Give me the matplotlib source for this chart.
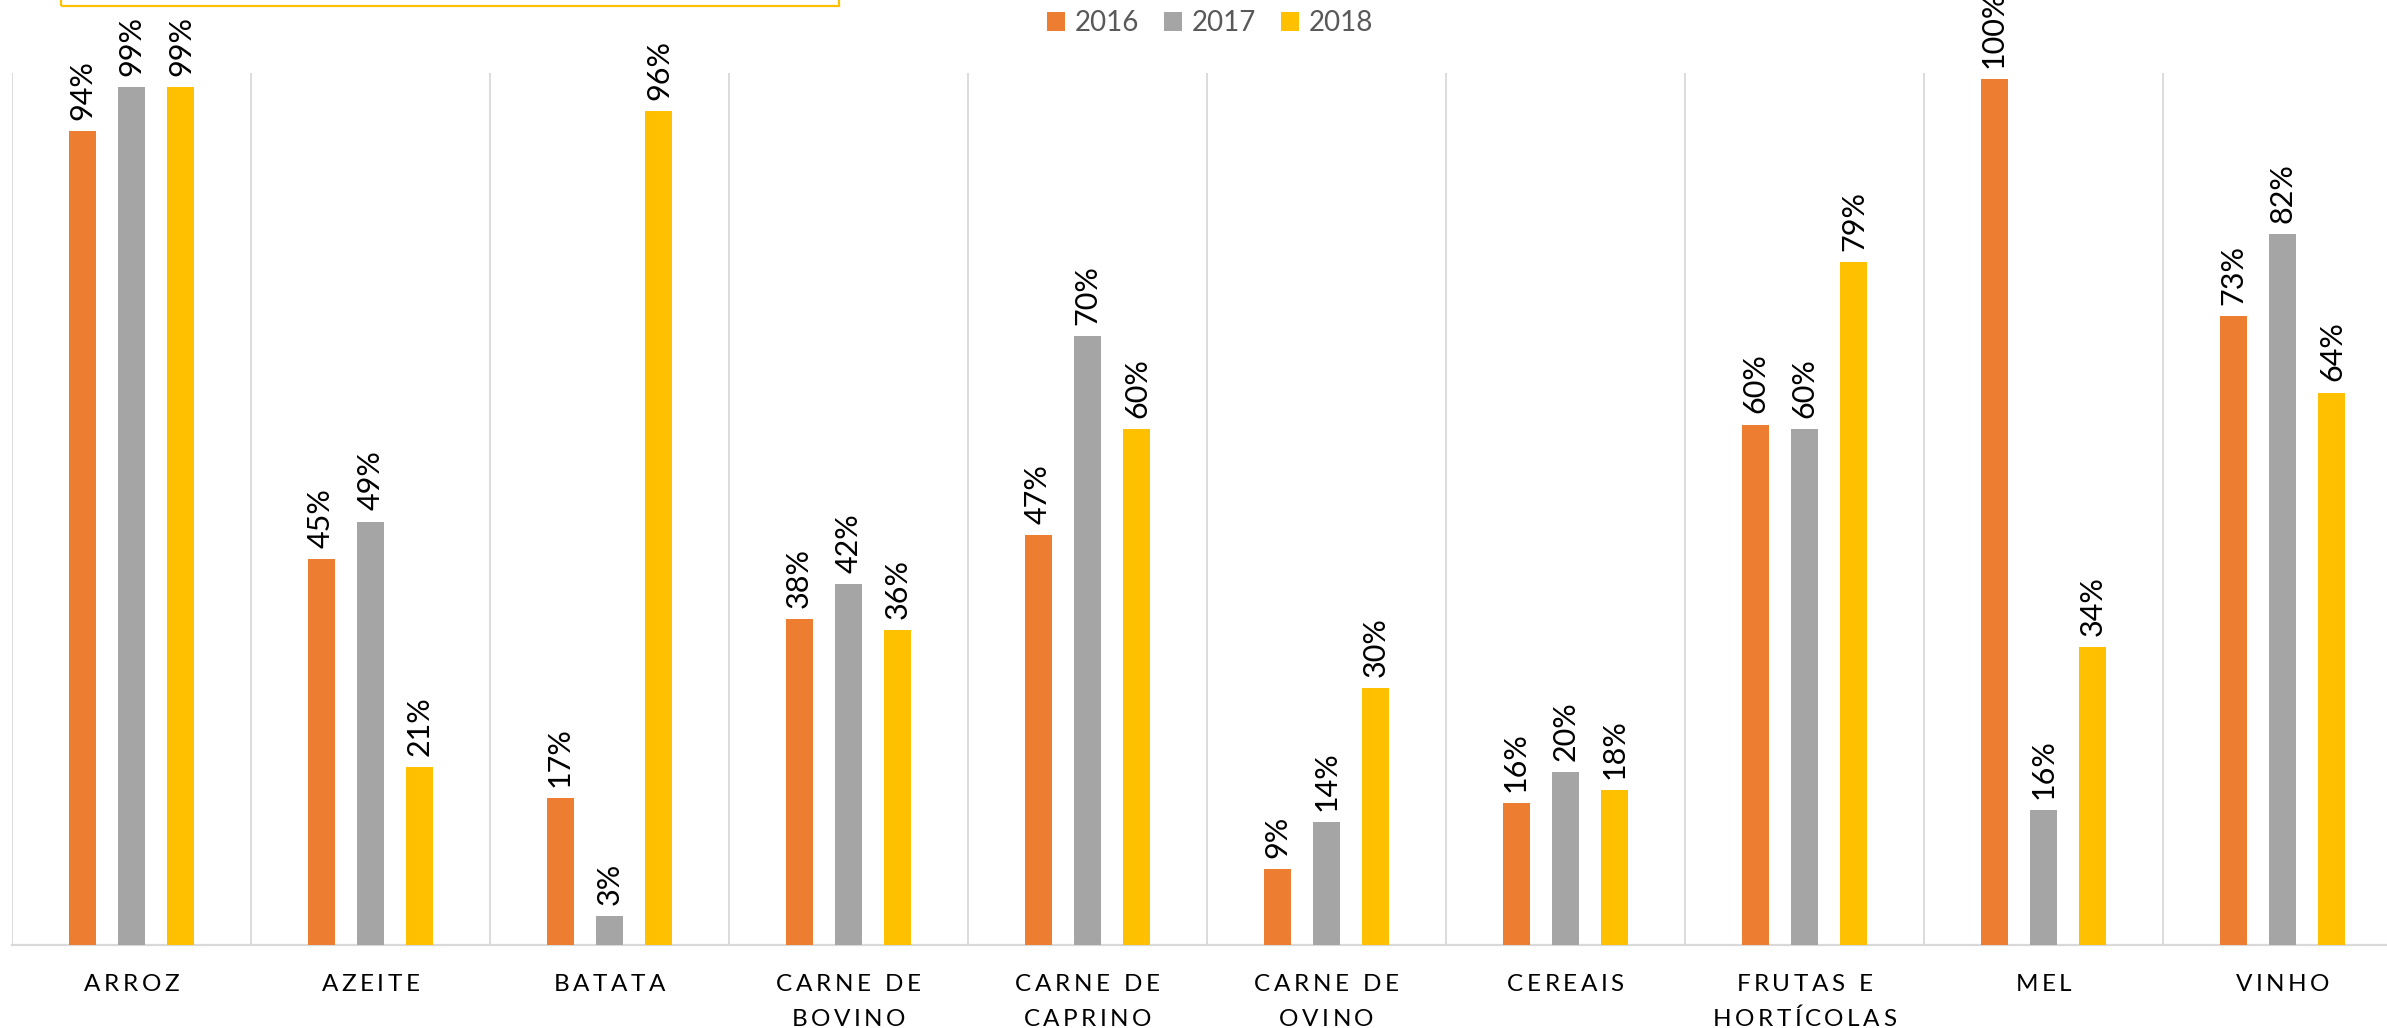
import matplotlib
matplotlib.use("Agg")
import matplotlib.pyplot as plt
from matplotlib.patches import Patch, Rectangle
from matplotlib.textpath import TextToPath
from matplotlib.font_manager import FontProperties
import numpy as np

categories = [["ARROZ"], ["AZEITE"], ["BATATA"], ["CARNE DE", "BOVINO"],
              ["CARNE DE", "CAPRINO"], ["CARNE DE", "OVINO"], ["CEREAIS"],
              ["FRUTAS E", "HORTÍCOLAS"], ["MEL"], ["VINHO"]]
years = ["2016", "2017", "2018"]
v2016 = [0.940, 0.446, 0.170, 0.376, 0.473, 0.088, 0.164, 0.601, 1.000, 0.726]
v2017 = [0.991, 0.489, 0.033, 0.417, 0.703, 0.142, 0.200, 0.596, 0.156, 0.821]
v2018 = [0.991, 0.206, 0.963, 0.364, 0.596, 0.297, 0.179, 0.789, 0.344, 0.638]
colors = ["#ED7D31", "#A5A5A5", "#FFC000"]

FONT = "Lato"
W, H = 2387, 1028
fig = plt.figure(figsize=(W / 100, H / 100), dpi=100)
ax = fig.add_axes([12 / W, 1 - 945 / H, 2390 / W, (945 - 73) / H])

x = np.arange(len(categories))
bw = 0.113
off = 0.207
series = [v2016, v2017, v2018]
for k, (vals, c) in enumerate(zip(series, colors)):
    xs = x + (k - 1) * off
    ax.bar(xs, vals, width=bw, color=c, zorder=3)
    for xi, v in zip(xs, vals):
        ax.annotate(f"{v:.0%}", xy=(xi, v), xytext=(0, 8), textcoords="offset points",
                    rotation=90, ha="center", va="bottom", fontsize=22,
                    family=FONT, color="#000000", annotation_clip=False)

ax.set_xlim(-0.5, len(categories) - 0.5)
ax.set_ylim(0, 1.007)
ax.set_yticks([])
ax.set_xticks([])
ax.set_xticks(np.arange(-0.5, len(categories), 1.0), minor=True)
ax.tick_params(which="both", length=0)
ax.grid(which="minor", axis="x", color="#D9D9D9", linewidth=1.3, zorder=0)
for s in ["top", "left", "right"]:
    ax.spines[s].set_visible(False)
ax.spines["bottom"].set_color("#D9D9D9")
ax.spines["bottom"].set_linewidth(1.6)

# letter-spaced category labels
fp = FontProperties(family=FONT, size=17.5)
ttp = TextToPath()
tracking = 2.5
space_w = 5.0

def cw(ch):
    if ch == " ":
        return space_w
    w, h, d = ttp.get_text_width_height_descent(ch, fp, ismath=False)
    return w

baselines = [-33.3, -58.5]
for i, lines in enumerate(categories):
    for li, line in enumerate(lines):
        widths = [cw(ch) for ch in line]
        total = sum(widths) + tracking * (len(line) - 1)
        dx = -total / 2
        for ch, w in zip(line, widths):
            if ch != " ":
                ax.annotate(ch, xy=(i, 0), xycoords=("data", "axes fraction"),
                            xytext=(dx, baselines[li]), textcoords="offset points",
                            ha="left", va="baseline", fontproperties=fp,
                            color="#000000", annotation_clip=False)
            dx += w + tracking

handles = [Patch(facecolor=c, edgecolor="none") for c in colors]
fig.legend(handles, years, loc="center", bbox_to_anchor=(1210 / W, 1 - 23 / H),
           ncol=3, frameon=False, prop=FontProperties(family=FONT, size=20),
           labelcolor="#595959", handlelength=0.65, handleheight=0.65,
           handletextpad=0.35, columnspacing=0.9)

fig.add_artist(Rectangle((61 / W, 1 - 6 / H), (839 - 61) / W, 0.05,
                         transform=fig.transFigure, facecolor="none",
                         edgecolor="#FFC000", linewidth=1.6, clip_on=False))

fig.savefig("out.png", dpi=100)
